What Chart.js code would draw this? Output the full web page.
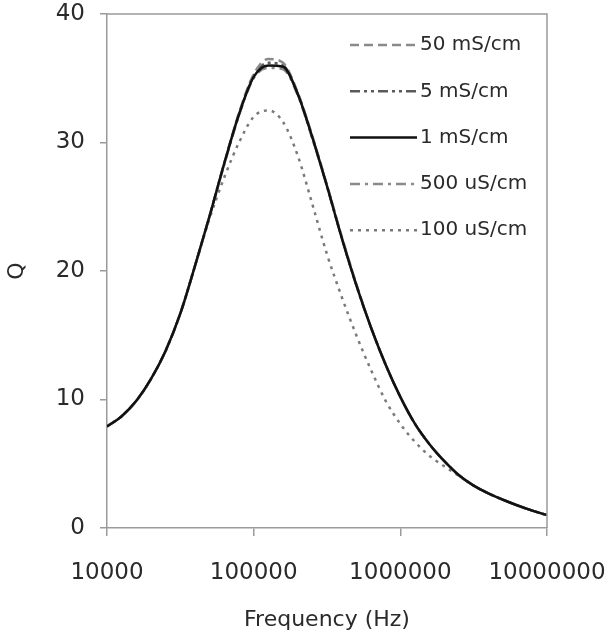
<!DOCTYPE html>
<html>
<head>
<meta charset="utf-8">
<script src="https://cdn.jsdelivr.net/npm/chart.js@4/dist/chart.umd.min.js"></script>
<style>
  body { margin: 0; background: #fff; }
  #wrap { width: 610px; height: 639px; }
</style>
</head>
<body>
<div id="wrap"><canvas id="qchart" width="610" height="639"></canvas></div>
<script>
// frequencies (Hz), log spaced
const freqs = [10000, 12589, 15849, 19953, 25119, 31623, 39811, 50119, 63096, 79433,
    100000, 125893, 158489, 199526, 251189, 316228, 398107, 501187, 630957, 794328,
    1000000, 1258925, 1584893, 1995262, 2511886, 3162278, 3981072, 5011872, 6309573, 7943282, 10000000]

// Q values
const q50mS = [7.9, 8.7, 9.9, 11.6, 13.8, 16.7, 20.4, 24.3, 28.4, 32.3, 35.3, 36.5, 36.2, 33.9, 30.5, 26.7, 22.7, 19.0, 15.6, 12.7, 10.2, 8.1, 6.5, 5.2, 4.1, 3.3, 2.7, 2.2, 1.75, 1.35, 1.0]
const q5mS = [7.9, 8.7, 9.9, 11.6, 13.8, 16.7, 20.4, 24.3, 28.4, 32.2, 35.2, 36.2, 36.0, 33.8, 30.4, 26.6, 22.6, 18.9, 15.6, 12.7, 10.2, 8.1, 6.5, 5.2, 4.1, 3.3, 2.7, 2.2, 1.75, 1.35, 1.0]
const q1mS = [7.9, 8.7, 9.9, 11.6, 13.8, 16.7, 20.4, 24.3, 28.4, 32.2, 35.1, 36.0, 35.9, 33.8, 30.4, 26.6, 22.6, 18.9, 15.6, 12.7, 10.2, 8.1, 6.5, 5.2, 4.1, 3.3, 2.7, 2.2, 1.75, 1.35, 1.0]
const q500uS = [7.9, 8.7, 9.9, 11.6, 13.8, 16.7, 20.4, 24.3, 28.3, 32.1, 35.0, 35.8, 35.7, 33.7, 30.3, 26.6, 22.6, 18.9, 15.6, 12.7, 10.2, 8.1, 6.5, 5.2, 4.1, 3.3, 2.7, 2.2, 1.75, 1.35, 1.0]
const q100uS = [7.9, 8.7, 9.9, 11.6, 13.8, 16.7, 20.4, 24.1, 27.3, 30.0, 32.0, 32.5, 31.6, 29.0, 25.2, 21.3, 18.0, 15.0, 12.3, 9.9, 8.1, 6.7, 5.6, 4.8, 4.05, 3.3, 2.7, 2.2, 1.75, 1.35, 1.0]

const seriesNames = ['50 mS/cm', '5 mS/cm', '1 mS/cm', '500 uS/cm', '100 uS/cm']
const xTicks = [10000, 100000, 1000000, 10000000]
const yTicks = [0, 10, 20, 30, 40]

const FONT = 'DejaVu Sans'
const AXIS = '#9a9a9a'
const TXT = '#2a2a2a'

function pts(vals) {
    return vals.map((v, i) => ({x: freqs[i], y: v}))
}

const styles = [
    {borderColor: '#8a8a8a', borderDash: [9, 5], borderWidth: 2.5},
    {borderColor: '#5a5a5a', borderDash: [10, 4, 3, 4, 3, 4], borderWidth: 2.5},
    {borderColor: '#111111', borderDash: [], borderWidth: 2.5},
    {borderColor: '#8a8a8a', borderDash: [10, 5, 3, 5], borderWidth: 2.5},
    {borderColor: '#7a7a7a', borderDash: [3, 5], borderWidth: 2.5}
]
const allData = [q50mS, q5mS, q1mS, q500uS, q100uS]

const datasets = seriesNames.map((name, i) => Object.assign({
    label: name,
    data: pts(allData[i]),
    pointRadius: 0,
    fill: false,
    cubicInterpolationMode: 'monotone',
    order: i === 2 ? 0 : i + 1
}, styles[i]))

// grey box round the plot + legend inside it
const framePlugin = {
    id: 'frame',
    afterDraw(chart) {
        const ctx = chart.ctx
        const a = chart.chartArea
        ctx.save()
        ctx.strokeStyle = AXIS
        ctx.lineWidth = 1.5
        ctx.beginPath()
        ctx.moveTo(a.left, a.top)
        ctx.lineTo(a.right, a.top)
        ctx.lineTo(a.right, a.bottom)
        ctx.stroke()

        // legend
        let y = a.top + 31
        chart.data.datasets.forEach(ds => {
            ctx.strokeStyle = ds.borderColor
            ctx.lineWidth = ds.borderWidth
            ctx.setLineDash(ds.borderDash)
            ctx.beginPath()
            ctx.moveTo(a.left + 243, y)
            ctx.lineTo(a.left + 310, y)
            ctx.stroke()
            ctx.setLineDash([])
            ctx.fillStyle = TXT
            ctx.font = '20px "' + FONT + '"'
            ctx.textBaseline = 'middle'
            ctx.fillText(ds.label, a.left + 313, y)
            y += 46.3
        })
        ctx.restore()
    }
}

new Chart(document.getElementById('qchart'), {
    type: 'line',
    data: {datasets: datasets},
    options: {
        responsive: false,
        animation: false,
        layout: {padding: {top: 14, right: 63, left: 0, bottom: 0}},
        plugins: {legend: {display: false}, tooltip: {enabled: false}},
        scales: {
            x: {
                type: 'logarithmic',
                min: 10000,
                max: 10000000,
                afterBuildTicks: s => { s.ticks = xTicks.map(v => ({value: v})) },
                afterFit: s => { s.height = 111; s.paddingLeft = 0; s.paddingRight = 0 },
                ticks: {
                    callback: v => String(v),
                    font: {family: FONT, size: 23},
                    color: TXT,
                    padding: 23,
                    maxRotation: 0,
                    autoSkip: false
                },
                grid: {drawOnChartArea: false, tickLength: 8, color: AXIS, lineWidth: 1.5},
                border: {color: AXIS, width: 1.5},
                title: {display: true, text: 'Frequency (Hz)', font: {family: FONT, size: 22}, color: TXT, padding: {top: 0, bottom: 6}}
            },
            y: {
                min: 0,
                max: 40,
                afterBuildTicks: s => { s.ticks = yTicks.map(v => ({value: v})) },
                afterFit: s => { s.width = 107; s.paddingTop = 0; s.paddingBottom = 0 },
                ticks: {font: {family: FONT, size: 23}, color: TXT, padding: 15},
                grid: {drawOnChartArea: false, tickLength: 7, color: AXIS, lineWidth: 1.5},
                border: {color: AXIS, width: 1.5},
                title: {display: true, text: 'Q', font: {family: FONT, size: 22}, color: TXT, padding: {top: 4, bottom: 0}}
            }
        }
    },
    plugins: [framePlugin]
})
</script>
</body>
</html>
